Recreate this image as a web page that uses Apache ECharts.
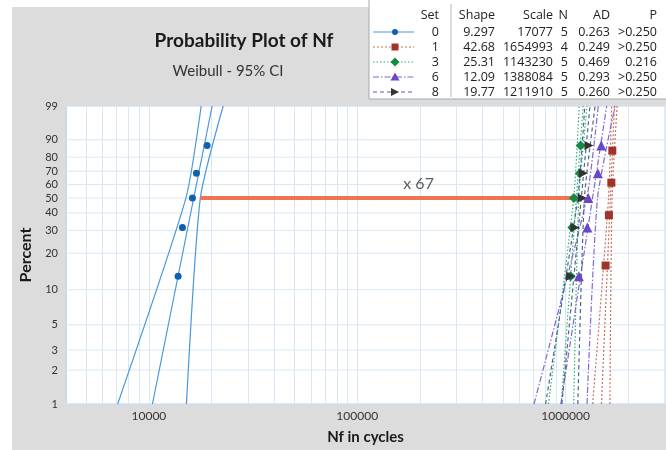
<!DOCTYPE html>
<html>
<head>
<meta charset="utf-8">
<title>Probability Plot of Nf</title>
<script src="https://cdn.jsdelivr.net/npm/echarts@6.0.0/dist/echarts.min.js"></script>
<style>
  html, body { margin: 0; padding: 0; background: #fff; }
  #bg { position: absolute; left: 12px; top: 7px; width: 654px; height: 443px; background: #dcdcdc; }
  #chart { position: absolute; left: 0; top: 0; width: 666px; height: 450px; }
</style>
</head>
<body>
<div id="bg"></div>
<div id="chart"></div>
<script>
// plotting positions (median ranks, %) for n = 5 and n = 4
var pct5 = [12.96, 31.48, 50, 68.52, 87.04]
var pct4 = [15.91, 38.64, 61.36, 84.09]

// Nf (cycles) of the plotted points, one array per set
var nf0 = [13810, 14490, 16180, 16910, 19030]
var nf1 = [1556000, 1614000, 1658000, 1676000]
var nf3 = [1057000, 1077000, 1096000, 1171000, 1180000]
var nf6 = [1158000, 1271000, 1285000, 1429000, 1484000]
var nf8 = [1057000, 1108000, 1203000, 1216000, 1294000]

// fitted lines, ends at 1 % and 99 %
var fitPct = [1, 99]
var fit0 = [10400, 20120]
var fit1 = [1486000, 1715000]
var fit3 = [953000, 1214000]
var fit6 = [949000, 1575000]
var fit8 = [960000, 1309000]

// 95 % confidence bounds at 1 %, 50 %, 99 %
var ciPct = [1, 50, 99]
var lo0 = [7080, 15050, 17820]
var hi0 = [15140, 17650, 22720]
var lo1 = [1349000, 1607000, 1664000]
var hi1 = [1632000, 1670000, 1767000]
var lo3 = [827000, 1094000, 1162000]
var hi3 = [1094000, 1157000, 1268000]
var lo6 = [705000, 1263000, 1435000]
var hi6 = [1267000, 1423000, 1729000]
var lo8 = [801500, 1144000, 1236000]
var hi8 = [1145000, 1231000, 1386000]

// the "x 67" comparison line at 50 %
var ratioNf = [17650, 1096000]
var ratioPct = [50, 50]
var ratioLabelNf = [197000]
var ratioLabelPct = [60.4]

// axis ticks
var xMin = 4000
var xMax = 3000000
var yLabelPct = [1, 2, 3, 5, 10, 20, 30, 40, 50, 60, 70, 80, 90, 99]
var xLabelVals = [10000, 100000, 1000000]
var xGridVals = [5000, 6000, 7000, 8000, 9000, 10000, 20000, 30000, 40000, 50000, 60000, 70000, 80000, 90000,
  100000, 200000, 300000, 400000, 500000, 600000, 700000, 800000, 900000, 1000000, 2000000, 3000000]

// legend table
var setNames = ['0', '1', '3', '6', '8']
var shapeVals = ['9.297', '42.68', '25.31', '12.09', '19.77']
var scaleVals = ['17077', '1654993', '1143230', '1388084', '1211910']
var nVals = ['5', '4', '5', '5', '5']
var adVals = ['0.263', '0.249', '0.469', '0.293', '0.260']
var pVals = ['>0.250', '>0.250', '0.216', '>0.250', '>0.250']

// weibull probability scale
function T(p) {
  return Math.log(-Math.log(1 - p / 100))
}
function pts(xs, ps) {
  return xs.map(function (x, i) { return [x, T(ps[i])] })
}

var gridColor = '#d8e7f4'
var styles = [
  { line: '#4a97dc', mark: '#0f5fb5', dash: 'solid', symbol: 'circle', size: 7 },
  { line: '#c8705f', mark: '#a0342a', dash: [2, 2], symbol: 'rect', size: 8 },
  { line: '#2fae78', mark: '#138a45', dash: [1.5, 2], symbol: 'diamond', size: 10 },
  { line: '#8466d6', mark: '#6a46c8', dash: [6, 2, 1.5, 2], symbol: 'triangle', size: 10 },
  { line: '#4f6688', mark: '#333333', dash: [4, 3], symbol: 'path://M0,0L10,5L0,10Z', size: 9 }
]
var nfs = [nf0, nf1, nf3, nf6, nf8]
var fits = [fit0, fit1, fit3, fit6, fit8]
var los = [lo0, lo1, lo3, lo6, lo8]
var his = [hi0, hi1, hi3, hi6, hi8]

var series = []
// horizontal grid at the percent levels
yLabelPct.forEach(function (p) {
  series.push({
    type: 'line',
    data: [[xMin, T(p)], [xMax, T(p)]],
    symbol: 'none',
    silent: true,
    z: 1,
    lineStyle: { color: gridColor, width: 1 }
  })
})
for (var k = 0; k < 5; k++) {
  var st = styles[k]
  var ls = { color: st.line, width: 1.2, type: st.dash }
  series.push({ type: 'line', data: pts(fits[k], fitPct), symbol: 'none', lineStyle: ls, silent: true })
  series.push({ type: 'line', data: pts(los[k], ciPct), symbol: 'none', smooth: 0.2, lineStyle: ls, silent: true })
  series.push({ type: 'line', data: pts(his[k], ciPct), symbol: 'none', smooth: 0.2, lineStyle: ls, silent: true })
}
series.push({
  type: 'line',
  data: pts(ratioNf, ratioPct),
  symbol: 'none',
  lineStyle: { color: '#f07355', width: 4 },
  z: 3
})
for (var j = 0; j < 5; j++) {
  series.push({
    type: 'scatter',
    data: pts(nfs[j], j === 1 ? pct4 : pct5),
    symbol: styles[j].symbol,
    symbolSize: styles[j].size,
    itemStyle: { color: styles[j].mark, opacity: 1 },
    z: 5
  })
}
series.push({
  type: 'scatter',
  data: pts(ratioLabelNf, ratioLabelPct),
  symbolSize: 0,
  label: {
    show: true,
    position: 'inside',
    formatter: 'x 67',
    fontFamily: 'Lato',
    fontSize: 16,
    color: '#333'
  }
})

// legend table built with graphic elements
var font = 'Lato'
var tableFont = 'Open Sans'
var legendKids = [
  { type: 'rect', shape: { x: 369, y: -2, width: 310, height: 101 }, style: { fill: '#fff', stroke: '#a8a8a8', lineWidth: 1 } },
  { type: 'line', shape: { x1: 451, y1: 4, x2: 451, y2: 97 }, style: { stroke: '#b8b8b8', lineWidth: 1 } }
]
var cols = [
  { x: 439, head: 'Set', vals: setNames },
  { x: 495, head: 'Shape', vals: shapeVals },
  { x: 553, head: 'Scale', vals: scaleVals },
  { x: 568, head: 'N', vals: nVals },
  { x: 610, head: 'AD', vals: adVals },
  { x: 657, head: 'P', vals: pVals }
]
cols.forEach(function (c) {
  legendKids.push({ type: 'text', x: c.x, y: 15, style: { text: c.head, align: 'right', verticalAlign: 'middle', fontFamily: tableFont, fontSize: 12.5, fill: '#222' } })
  c.vals.forEach(function (v, i) {
    legendKids.push({ type: 'text', x: c.x, y: 32 + 15 * i, style: { text: v, align: 'right', verticalAlign: 'middle', fontFamily: tableFont, fontSize: 12.5, fill: '#222' } })
  })
})
styles.forEach(function (st, i) {
  var y = 32 + 15 * i
  legendKids.push({ type: 'line', shape: { x1: 373, y1: y, x2: 414, y2: y }, style: { stroke: st.line, lineWidth: 1.2, lineDash: st.dash === 'solid' ? null : st.dash } })
  var s = st.size - 1
  var mk
  if (i === 0) mk = { type: 'circle', shape: { cx: 395, cy: y, r: s / 2 } }
  else if (i === 1) mk = { type: 'rect', shape: { x: 395 - s / 2, y: y - s / 2, width: s, height: s } }
  else if (i === 2) mk = { type: 'polygon', shape: { points: [[395, y - s / 2], [395 + s / 2, y], [395, y + s / 2], [395 - s / 2, y]] } }
  else if (i === 3) mk = { type: 'polygon', shape: { points: [[395, y - s / 2], [395 + s / 2, y + s / 2.5], [395 - s / 2, y + s / 2.5]] } }
  else mk = { type: 'polygon', shape: { points: [[391, y - 4], [399, y], [391, y + 4]] } }
  mk.style = { fill: st.mark }
  legendKids.push(mk)
})

var chart = echarts.init(document.getElementById('chart'))
chart.setOption({
  animation: false,
  backgroundColor: 'transparent',
  title: [{
    text: 'Probability Plot of Nf',
    left: 239,
    top: 26,
    textAlign: 'center',
    textStyle: { fontFamily: font, fontSize: 19, fontWeight: 'bold', color: '#1a1a1a' }
  }, {
    text: 'Weibull - 95% CI',
    left: 223,
    top: 59,
    textAlign: 'center',
    textStyle: { fontFamily: font, fontSize: 15, fontWeight: 'normal', color: '#333' }
  }],
  grid: {
    left: 66,
    right: 1,
    top: 106,
    bottom: 42,
    show: true,
    backgroundColor: '#fff',
    borderColor: '#c9dbea',
    borderWidth: 1
  },
  xAxis: {
    type: 'log',
    logBase: 10,
    min: xMin,
    max: xMax,
    name: 'Nf in cycles',
    nameLocation: 'middle',
    nameGap: 26,
    nameTextStyle: { fontFamily: font, fontSize: 15, fontWeight: 'bold', color: '#1a1a1a' },
    axisLine: { onZero: false, lineStyle: { color: '#c9dbea' } },
    axisTick: { show: false, customValues: xGridVals },
    splitLine: { show: true, lineStyle: { color: gridColor, width: 1 } },
    axisLabel: {
      customValues: xLabelVals,
      margin: 6,
      fontFamily: font,
      fontSize: 12,
      color: '#333',
      formatter: function (v) { return String(Math.round(v)) }
    }
  },
  yAxis: {
    type: 'value',
    min: T(1),
    max: T(99),
    name: 'Percent',
    nameLocation: 'middle',
    nameGap: 29,
    nameTextStyle: { fontFamily: font, fontSize: 16, fontWeight: 'bold', color: '#1a1a1a' },
    axisLine: { show: true, onZero: false, lineStyle: { color: '#c9dbea' } },
    axisTick: { show: false, customValues: yLabelPct.map(T) },
    splitLine: { show: false },
    axisLabel: {
      customValues: yLabelPct.map(T),
      margin: 8,
      fontFamily: font,
      fontSize: 11,
      color: '#333',
      formatter: function (v) {
        for (var i = 0; i < yLabelPct.length; i++) {
          if (Math.abs(T(yLabelPct[i]) - v) < 1e-6) return String(yLabelPct[i])
        }
        return ''
      }
    }
  },
  graphic: [{ type: 'group', children: legendKids, z: 10 }],
  series: series
})
</script>
</body>
</html>
